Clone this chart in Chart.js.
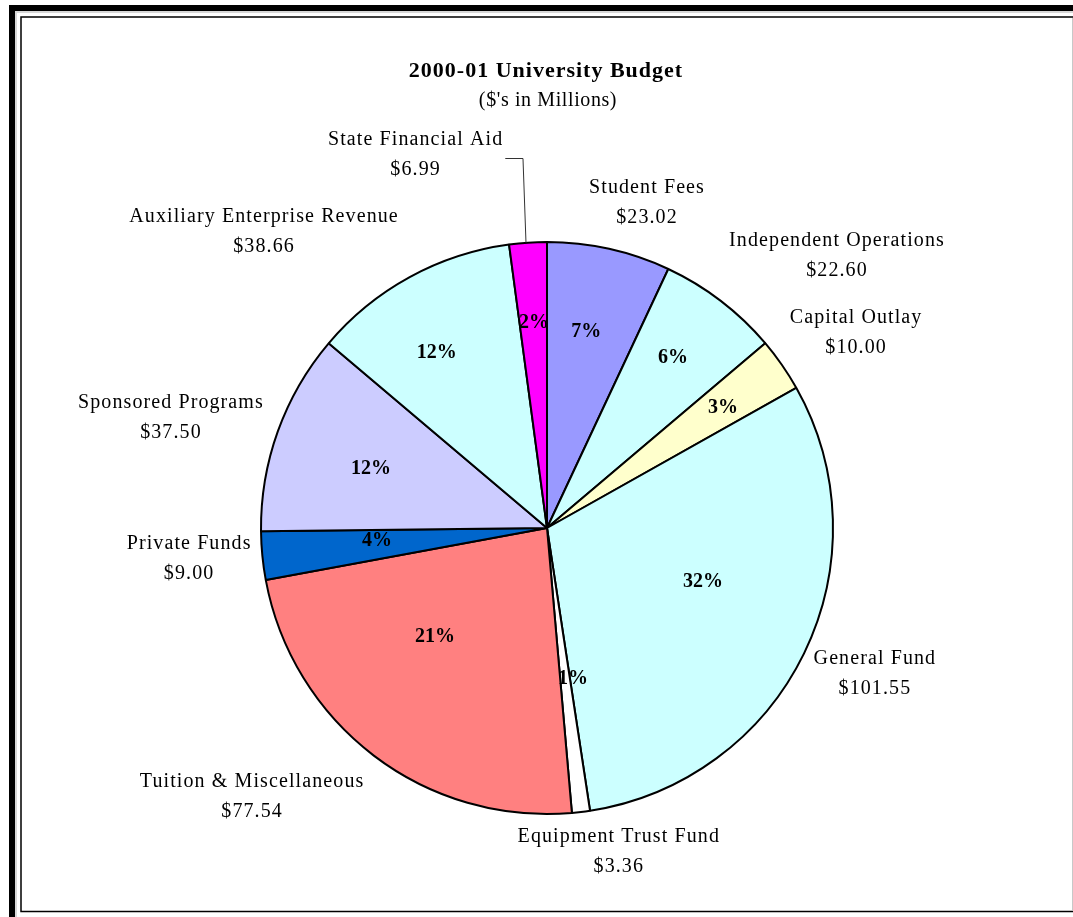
<!DOCTYPE html>
<html>
<head>
<meta charset="utf-8">
<title>2000-01 University Budget</title>
<script src="https://cdn.jsdelivr.net/npm/chart.js@4.4.0/dist/chart.umd.min.js"></script>
<style>
  html, body { margin: 0; padding: 0; background: #fff; }
  canvas { display: block; }
</style>
</head>
<body>
<canvas id="budgetChart" width="1073" height="917"></canvas>
<script>
"use strict";

// Budget sources, clockwise from 12 o'clock ($ in millions)
const categories = [
  "Student Fees",
  "Independent Operations",
  "Capital Outlay",
  "General Fund",
  "Equipment Trust Fund",
  "Tuition & Miscellaneous",
  "Private Funds",
  "Sponsored Programs",
  "Auxiliary Enterprise Revenue",
  "State Financial Aid"
];
const amounts = [23.02, 22.60, 10.00, 101.55, 3.36, 77.54, 9.00, 37.50, 38.66, 6.99];
// percentages exactly as printed on the slices
const percentLabels = ["7%", "6%", "3%", "32%", "1%", "21%", "4%", "12%", "12%", "2%"];

const sliceColors = [
  "#9999FF", "#CCFFFF", "#FFFFCC", "#CCFFFF", "#FFFFFF",
  "#FF8080", "#0066CC", "#CCCCFF", "#CCFFFF", "#FF00FF"
];

// label placement around the pie: [degrees clockwise from 12 o'clock, distance in radii]
const percentSpots = [
  [11.3, 0.70], [36.5, 0.74], [55.7, 0.745], [109.1, 0.577], [170.2, 0.536],
  [225.8, 0.546], [265.6, 0.596], [288.5, 0.649], [327.8, 0.723], [356.4, 0.718]
];
const nameSpots = [
  [17.1, 1.189], [46.8, 1.391], [57.75, 1.278], [114.0, 1.255], [167.5, 1.160],
  [227.7, 1.394], [265.05, 1.256], [286.3, 1.370], [316.3, 1.432], [340.6, 1.383]
];
const leaderLabel = "State Financial Aid";

const SERIF = "'Liberation Serif', 'Times New Roman', serif";

const polar = (arc, spot) => {
  const a = (spot[0] - 90) * Math.PI / 180;
  const d = spot[1] * arc.outerRadius;
  return { x: arc.x + Math.cos(a) * d, y: arc.y + Math.sin(a) * d };
};

const putText = (ctx, text, x, y, font, spacing) => {
  ctx.font = font;
  ctx.letterSpacing = spacing;
  ctx.textAlign = "center";
  ctx.textBaseline = "middle";
  ctx.fillText(text, x, y);
};

// frame of the original sheet
const framePlugin = {
  id: "frame",
  beforeDraw(chart) {
    const { ctx, width, height } = chart;
    ctx.save();
    ctx.fillStyle = "#fff";
    ctx.fillRect(0, 0, width, height);
    ctx.fillStyle = "#000";
    ctx.fillRect(9, 5, 6, height);
    ctx.fillRect(9, 5, width, 6);
    ctx.fillStyle = "#d8d8d8";
    ctx.fillRect(15, 11, 2, height);
    ctx.fillRect(15, 11, width, 2);
    ctx.strokeStyle = "#000";
    ctx.lineWidth = 1.5;
    ctx.strokeRect(21, 17, width + 10, 894.5);
    ctx.strokeStyle = "#c8c8c8";
    ctx.lineWidth = 1;
    ctx.beginPath();
    ctx.moveTo(1072.5, 18);
    ctx.lineTo(1072.5, 910);
    ctx.stroke();
    ctx.restore();
  }
};

const labelPlugin = {
  id: "sliceLabels",
  afterDraw(chart) {
    const { ctx } = chart;
    const arcs = chart.getDatasetMeta(0).data;
    ctx.save();
    ctx.fillStyle = "#000";

    putText(ctx, "2000-01 University Budget", 546, 71, "bold 22px " + SERIF, "1px");
    putText(ctx, "($'s in Millions)", 548, 101, "20px " + SERIF, "0.6px");

    arcs.forEach((arc, i) => {
      const p = polar(arc, percentSpots[i]);
      putText(ctx, percentLabels[i], p.x, p.y, "bold 20px " + SERIF, "0px");

      const n = polar(arc, nameSpots[i]);
      const name = categories[i];
      putText(ctx, name, n.x, n.y - 15, "20px " + SERIF, "1.1px");
      const nameWidth = ctx.measureText(name).width;
      putText(ctx, "$" + amounts[i].toFixed(2), n.x, n.y + 15, "20px " + SERIF, "1.1px");

      if (name === leaderLabel) {
        const mid = (arc.startAngle + arc.endAngle) / 2;
        const ex = arc.x + Math.cos(mid) * arc.outerRadius;
        const ey = arc.y + Math.sin(mid) * arc.outerRadius;
        const ly = Math.round(n.y + 3) + 0.5;
        ctx.strokeStyle = "#333";
        ctx.lineWidth = 1;
        ctx.beginPath();
        ctx.moveTo(ex - 2, ey);
        ctx.lineTo(ex - 5, ly);
        ctx.lineTo(n.x + nameWidth / 2 + 2, ly);
        ctx.stroke();
      }
    });
    ctx.restore();
  }
};

const renderBudgetChart = () => {
  const ctx = document.getElementById("budgetChart").getContext("2d");
  new Chart(ctx, {
    type: "pie",
    data: {
      labels: categories,
      datasets: [
        {
          data: amounts,
          backgroundColor: sliceColors,
          borderColor: "#000",
          borderWidth: 2,
          hoverOffset: 0
        }
      ]
    },
    options: {
      responsive: false,
      animation: false,
      events: [],
      layout: {
        padding: { left: 260, right: 239, top: 241, bottom: 102 }
      },
      plugins: {
        legend: { display: false },
        title: { display: false },
        tooltip: { enabled: false }
      }
    },
    plugins: [framePlugin, labelPlugin]
  });
};

document.addEventListener("DOMContentLoaded", renderBudgetChart);
</script>
</body>
</html>
